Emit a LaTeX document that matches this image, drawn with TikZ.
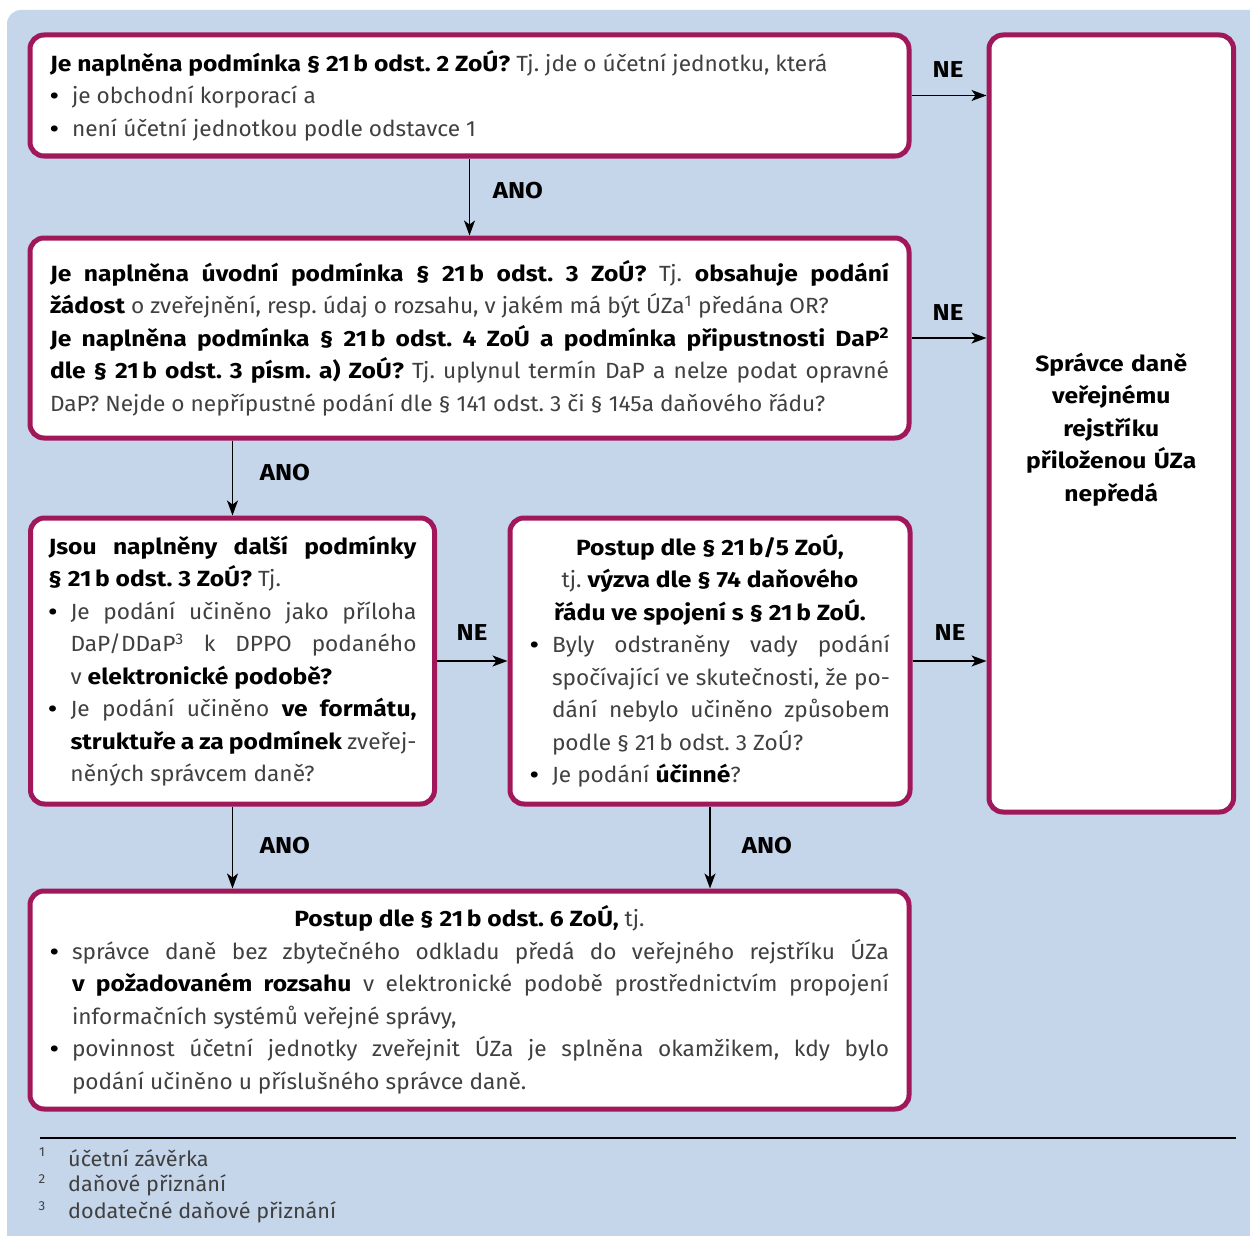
\documentclass[tikz,border=0pt]{standalone}
\usepackage{fontspec}
\setmainfont{Fira Sans}[UprightFeatures={FakeStretch=1.03},BoldFeatures={FakeStretch=1.12}]
\usetikzlibrary{arrows.meta}
\definecolor{bgblue}{RGB}{197,213,234}
\definecolor{boxred}{RGB}{160,24,90}
\newcommand{\hl}[1]{\textbf{\color{black}#1}}
\newcommand{\bul}{\par\noindent\hangindent=1em\hangafter=1\makebox[1em][l]{\hl{\textbullet}}}
\hyphenpenalty=10000

\begin{document}
\frenchspacing
\begin{tikzpicture}[x=1pt,y=-1pt,
  box/.style={draw=boxred,line width=5pt,fill=white,rounded corners=14pt,anchor=north west,
    inner xsep=17pt,inner ysep=0pt,align=justify,text=black!75,font=\fontsize{22}{32.5}\selectfont},
  arr/.style={-{Stealth[length=15pt,width=11pt,inset=4pt]},line width=1.4pt},
  lbl/.style={font=\fontsize{23}{26}\selectfont\bfseries},
  fnote/.style={anchor=west,inner sep=0pt,text=black!75,font=\fontsize{21}{27}\selectfont},
  fnum/.style={inner sep=0pt,text=black!75,font=\fontsize{13}{13}\selectfont}]
\useasboundingbox (0,0) rectangle (1250,1236);

% background
\fill[bgblue,rounded corners=14pt] (7,10) rectangle (1290,1270);

% Boxes
\node[box,minimum width=879,minimum height=121,text width=839] (b1) at (27.5,32.5)
  {\hl{Je naplněna podmínka §~21\,b odst.~2 ZoÚ?} Tj. jde o účetní jednotku, která
   \bul je obchodní korporací a
   \bul není účetní jednotkou podle odstavce 1\par};

\node[box,minimum width=879,minimum height=200,text width=839] (b2) at (27.5,235.5)
  {\hl{Je naplněna úvodní podmínka §~21\,b odst.~3 ZoÚ?} Tj. \hl{obsahuje podání}\linebreak
   \hl{žádost} o zveřejnění, resp. údaj o rozsahu, v jakém má být ÚZa\textsuperscript{1} předána OR?\par
   \hl{Je naplněna podmínka §~21\,b odst.~4 ZoÚ a podmínka připustnosti DaP\textsuperscript{2}}\linebreak
   \hl{dle §~21\,b odst.~3 písm. a) ZoÚ?} Tj. uplynul termín DaP a nelze podat opravné\linebreak
   DaP? Nejde o nepřípustné podání dle §~141 odst.~3 či §~145a daňového řádu?\par};

\node[box,minimum width=404,minimum height=286,text width=368] (b3) at (28,515.5)
  {\hl{Jsou naplněny další podmínky}\linebreak
   \hl{§~21\,b odst.~3 ZoÚ?} Tj.
   \bul Je podání učiněno jako příloha\linebreak
   DaP/DDaP\textsuperscript{3} k DPPO podaného\linebreak
   v \hl{elektronické podobě?}
   \bul Je podání učiněno \hl{ve formátu,}\linebreak
   \hl{struktuře a za podmínek} zveřej-\linebreak
   něných správcem daně?\par};

\node[box,minimum width=400,minimum height=286,text width=360] (b4) at (507.5,515.5)
  {\centerline{\hl{Postup dle §~21\,b/5 ZoÚ,}}
   \centerline{tj. \hl{výzva dle §~74 daňového}}
   \centerline{\hl{řádu ve spojení s §~21\,b ZoÚ.}}
   \bul Byly odstraněny vady podání\linebreak
   spočívající ve skutečnosti, že po-\linebreak
   dání nebylo učiněno způsobem\linebreak
   podle §~21\,b odst.~3 ZoÚ?
   \bul Je podání \hl{účinné}?\par};

\node[box,minimum width=879,minimum height=218,text width=839] (b5) at (27.5,888.5)
  {\centerline{\hl{Postup dle §~21\,b odst.~6 ZoÚ,} tj.}
   \bul správce daně bez zbytečného odkladu předá do veřejného rejstříku ÚZa\linebreak
   \hl{v požadovaném rozsahu} v elektronické podobě prostřednictvím propojení\linebreak
   informačních systémů veřejné správy,
   \bul povinnost účetní jednotky zveřejnit ÚZa je splněna okamžikem, kdy bylo\linebreak
   podání učiněno u příslušného správce daně.\par};

\node[box,minimum width=244.5,minimum height=777,text width=204,align=center,text=black,font=\fontsize{22}{32.5}\selectfont\bfseries] (r) at (986.5,32.5)
  {\rule{0pt}{30pt}Správce daně\\ veřejnému\\ rejstříku\\ přiloženou ÚZa\\ nepředá};

% Arrows
\draw[arr] (b1.east) -- (b1.east -| r.west);
\draw[arr] (b1.south) -- (b2.north);
\draw[arr] (b2.east) -- (b2.east -| r.west);
\draw[arr] (b3.north |- b2.south) -- (b3.north);
\draw[arr] (b3.east) -- (b4.west);
\draw[arr] (b4.east) -- (b4.east -| r.west);
\draw[arr] (b3.south) -- (b3.south |- b5.north);
\draw[arr] (b4.south) -- (b4.south |- b5.north);

% Labels
\node[lbl] (ne1) at (948,70) {NE};
\node[lbl] (ano1) at (518,191) {ANO};
\node[lbl] (ne2) at (948,313) {NE};
\node[lbl] (ano2) at (285,473) {ANO};
\node[lbl] (ne3) at (472,633) {NE};
\node[lbl] (ne4) at (950,633) {NE};
\node[lbl] (ano3) at (285,846) {ANO};
\node[lbl] (ano4) at (767,846) {ANO};

% Footnotes
\draw[line width=1.2pt] (40,1138) -- (1236,1138);
\node[fnum] (n1) at (42,1152) {1};
\node[fnote] (f1) at (68,1158) {účetní závěrka};
\node[fnum] (n2) at (42,1179) {2};
\node[fnote] (f2) at (68,1185) {daňové přiznání};
\node[fnum] (n3) at (42,1206) {3};
\node[fnote] (f3) at (68,1212) {dodatečné daňové přiznání};

\end{tikzpicture}
\end{document}
